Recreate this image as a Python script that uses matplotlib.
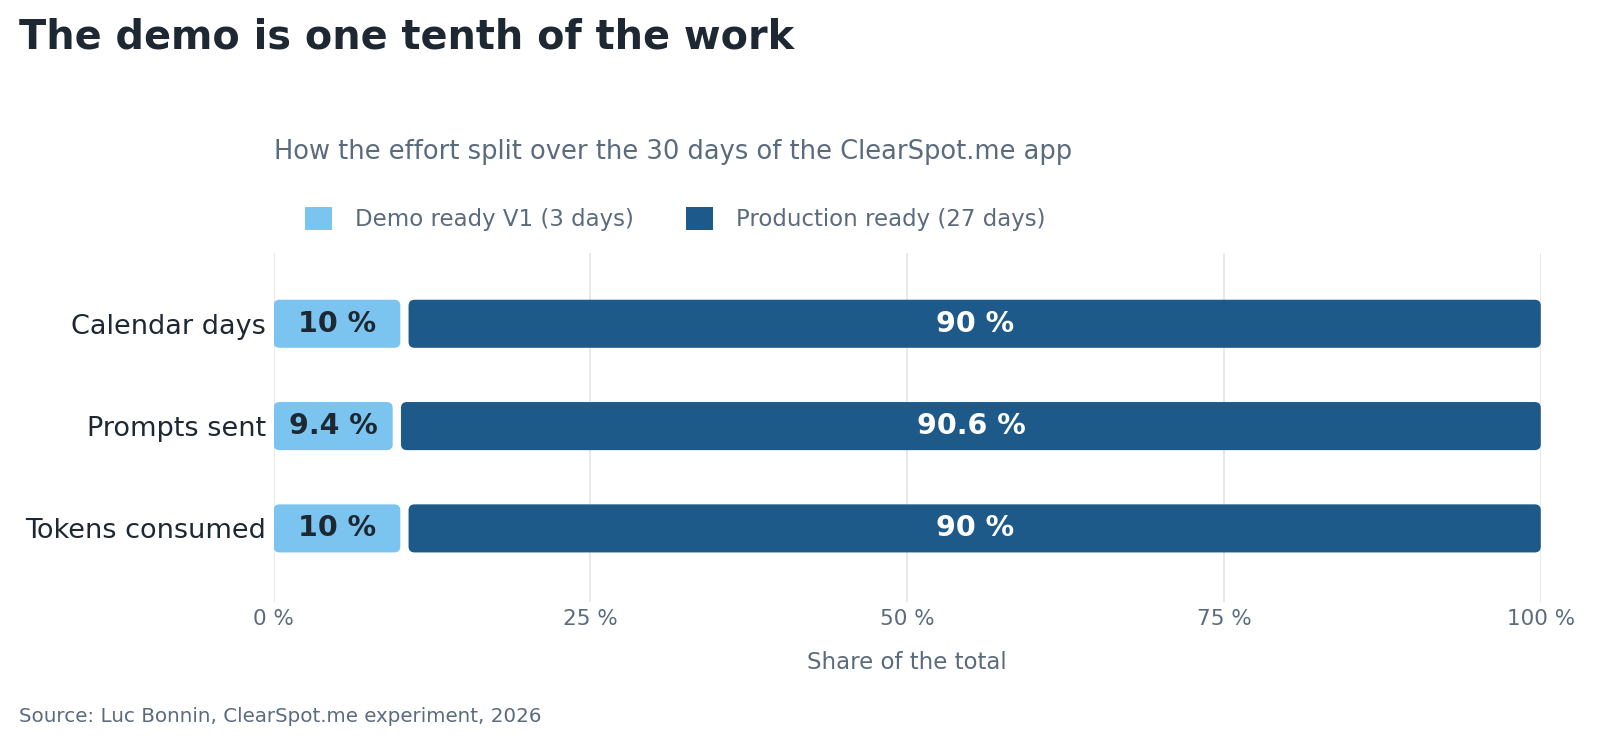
import matplotlib.pyplot as plt
import numpy as np
from matplotlib.patches import FancyBboxPatch, Patch

categories = ["Calendar days", "Prompts sent", "Tokens consumed"]
demo = [10, 9.4, 10]
prod = [90, 90.6, 90]
series_names = ["Demo ready V1 (3 days)", "Production ready (27 days)"]
xticks = [0, 25, 50, 75, 100]
xtick_labels = ["0 %", "25 %", "50 %", "75 %", "100 %"]

light = "#7cc4f0"
dark = "#1d5a8a"
ink = "#1e2833"
grey = "#5b6b7e"

plt.rcParams['font.family'] = ['DejaVu Sans']
fig = plt.figure(figsize=(16, 7.36), dpi=100)
ax = fig.add_axes([0.171, 0.182, 0.792, 0.474])

ax.set_xlim(0, 100)
ax.set_ylim(2.72, -0.69)

bar_h = 0.47
gap = 0.65  # white gap between segments, in % units
# aspect between x and y data units in pixels, for round corners
bb = ax.get_position()
px_x = bb.width * 1600 / 100
px_y = bb.height * 736 / 3.41
aspect = px_x / px_y
radius = 6 / px_x

y = np.arange(len(categories))
for i in range(len(categories)):
    segs = [(0, demo[i], light, ink), (demo[i], prod[i], dark, "white")]
    for k, (left, w, col, tcol) in enumerate(segs):
        x0 = left + (gap if k > 0 else 0)
        width = w - (gap if k > 0 else 0)
        p = FancyBboxPatch((x0, y[i] - bar_h / 2), width, bar_h,
                           boxstyle=f"round,pad=0,rounding_size={radius}",
                           mutation_aspect=aspect, facecolor=col, edgecolor="none",
                           zorder=3)
        ax.add_patch(p)
        val = demo[i] if k == 0 else prod[i]
        txt = f"{val:g} %"
        ax.text(x0 + width / 2, y[i], txt, ha="center", va="center",
                fontsize=20.5, fontweight="bold", color=tcol, zorder=4)

ax.set_yticks(y)
ax.set_yticklabels(categories, fontsize=19.5, color=ink)
ax.set_xticks(xticks)
ax.set_xticklabels(xtick_labels, fontsize=15.5, color=grey)
ax.tick_params(axis="both", length=0)
ax.tick_params(axis="x", pad=5)
ax.tick_params(axis="y", pad=5.5)
ax.grid(axis="x", color="#e4e4e4", linewidth=1.2, zorder=0)
ax.set_axisbelow(True)
for s in ax.spines.values():
    s.set_visible(False)
ax.set_xlabel("Share of the total", fontsize=16.5, color=grey, labelpad=16)

fig.text(0.012, 0.949, "The demo is one tenth of the work", fontsize=28.6,
         fontweight="bold", color=ink, va="center", ha="left")
fig.text(0.171, 0.794, "How the effort split over the 30 days of the ClearSpot.me app",
         fontsize=18.5, color=grey, va="center", ha="left")
fig.text(0.012, 0.027, "Source: Luc Bonnin, ClearSpot.me experiment, 2026",
         fontsize=14.3, color=grey, va="center", ha="left")

handles = [Patch(facecolor=light), Patch(facecolor=dark)]
fig.legend(handles, series_names, loc="center left", bbox_to_anchor=(0.178, 0.702),
           ncol=2, frameon=False, fontsize=16.5, labelcolor=grey,
           handlelength=1.15, handleheight=1.15, handletextpad=1.0, columnspacing=2.3)

fig.savefig("out.png", dpi=100)
